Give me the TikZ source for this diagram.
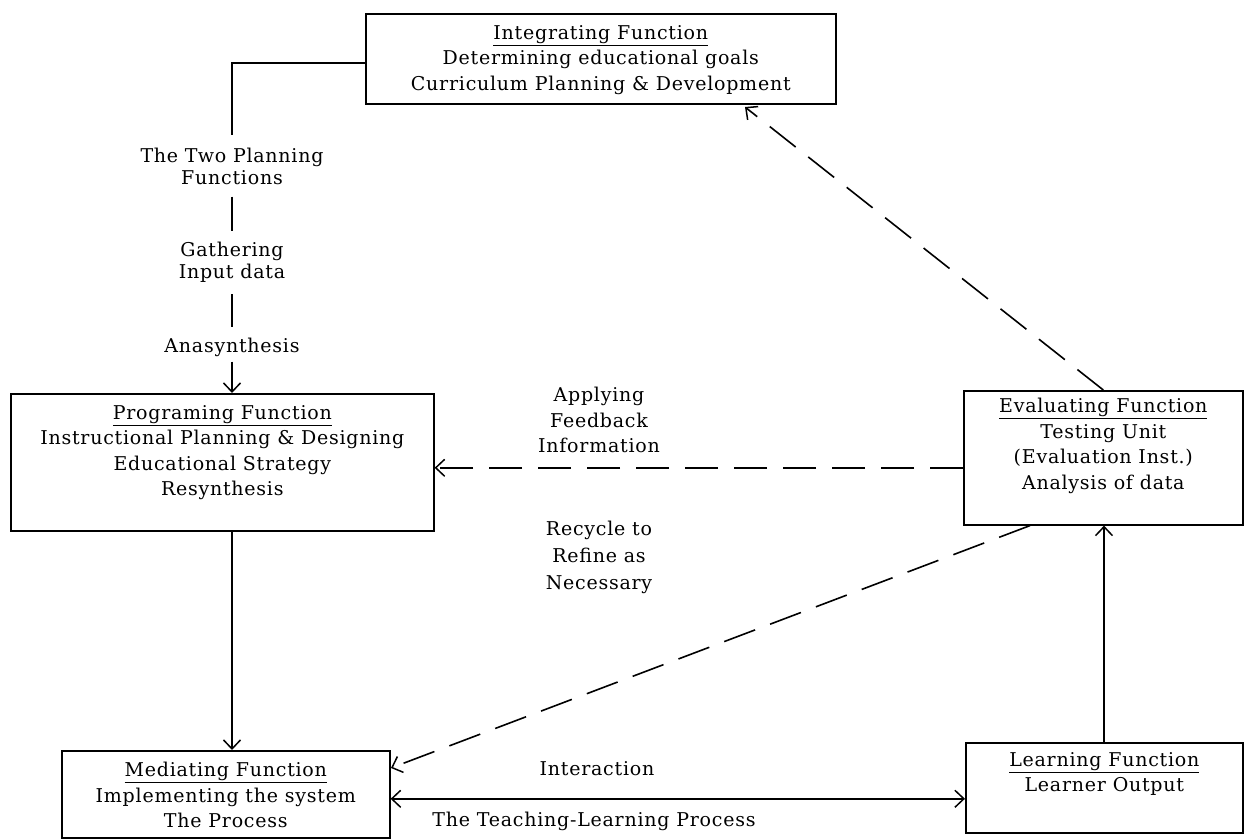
\documentclass[tikz,border=0pt]{standalone}
\usepackage{fontspec}
\setmainfont{DejaVu Serif}[LetterSpace=4]
\usetikzlibrary{arrows.meta,calc}
\begin{document}
\begin{tikzpicture}[x=1pt,y=-1pt,
  box/.style={draw,line width=1.6pt,inner sep=0pt,anchor=north west},
  txt/.style={font=\fontsize{19}{25.5}\selectfont,align=center,inner sep=0pt},
  lbl/.style={font=\fontsize{19}{22}\selectfont,align=center,inner sep=0pt},
  link/.style={line width=1.6pt},
  barb/.tip={Straight Barb[length=9pt,width=17pt,line width=1.5pt]},
  tip/.style={-barb},
  dashlink/.style={line width=1.6pt,dash pattern=on 33pt off 16pt}]
\useasboundingbox (0,0) rectangle (1248,840);

% boxes
\node[box,minimum width=470,minimum height=90] (integ) at (365,13) {};
\node[box,minimum width=423,minimum height=137] (prog) at (10,393) {};
\node[box,minimum width=279,minimum height=134] (eval) at (963,390) {};
\node[box,minimum width=328,minimum height=87] (med) at (61,750) {};
\node[box,minimum width=277,minimum height=90] (learn) at (965,742) {};

% box texts
\node[txt,anchor=north] (integt) at ($(integ.north)+(0,12)$)
  {\underline{Integrating Function}\\Determining educational goals\\Curriculum Planning \& Development};
\node[txt,anchor=north] (progt) at ($(prog.north)+(0,12)$)
  {\underline{Programing Function}\\Instructional Planning \& Designing\\Educational Strategy\\Resynthesis};
\node[txt,anchor=north] (evalt) at ($(eval.north)+(0,8)$)
  {\underline{Evaluating Function}\\Testing Unit\\(Evaluation Inst.)\\Analysis of data};
\node[txt,anchor=north] (medt) at ($(med.north)+(0,12)$)
  {\underline{Mediating Function}\\Implementing the system\\The Process};
\node[txt,anchor=north] (learnt) at ($(learn.north)+(0,10)$)
  {\underline{Learning Function}\\Learner Output};

% planning column labels
\node[lbl] (twoplan) at (232,166) {The Two Planning\\Functions};
\node[lbl] (gather) at (232,262) {Gathering\\Input data};
\node[lbl] (anas) at (232,347) {Anasynthesis};

% loop labels
\node[lbl,font=\fontsize{19}{25.5}\selectfont] (apply) at (599,420) {Applying\\Feedback\\Information};
\node[lbl,font=\fontsize{19}{27}\selectfont] (recyc) at (599,557) {Recycle to\\Refine as\\Necessary};
\node[lbl] (inter) at (597,769) {Interaction};
\node[lbl] (teach) at (594,821) {The Teaching-Learning Process};

% planning column
\coordinate (stub) at ($(integ.west)+(0,4)$);
\draw[link] (stub) -| ($(twoplan.north)+(0,-12)$);
\draw[link] ($(twoplan.south)+(0,12)$) -- ($(gather.north)+(0,-11)$);
\draw[link] ($(gather.south)+(0,12)$) -- ($(anas.north)+(0,-10)$);
\draw[link,tip] ($(anas.south)+(0,5)$) -- (anas.south |- prog.north);

% main flow
\draw[link,tip] (prog.south -| anas) -- (med.north -| anas);
\coordinate (ileft) at ($(med.east)+(0,4.5)$);
\coordinate (iright) at (ileft -| learn.west);
\draw[link,barb-barb] (ileft) -- (iright);
\coordinate (upx) at (1104,0);
\draw[link,tip] (learn.north -| upx) -- (eval.south -| upx);

% feedback loops
\coordinate (fbstart) at ($(eval.west)+(0,10)$);
\draw[dashlink,tip] (fbstart) -- (fbstart -| prog.east);
\coordinate (upend) at (745,107);
\draw[dashlink,tip] (eval.north) -- (upend);
\coordinate (recstart) at ($(eval.south west)+(67,0)$);
\coordinate (recend) at (391,768);
\draw[dashlink,tip] (recstart) -- (recend);
\end{tikzpicture}
\end{document}
